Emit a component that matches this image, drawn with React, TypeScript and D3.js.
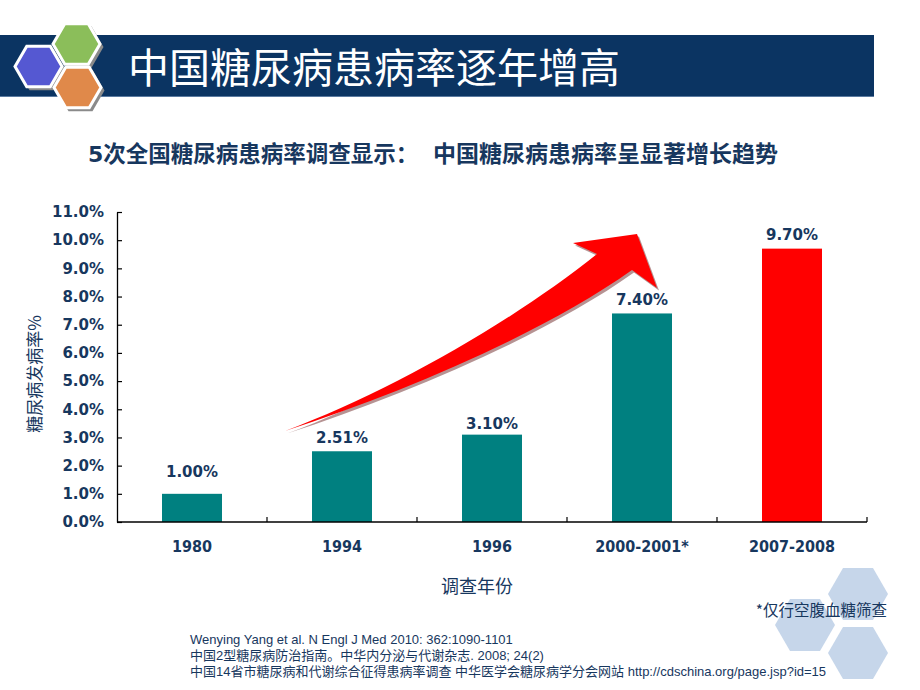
import React, { useEffect, useRef } from "react";
import * as d3 from "d3";

const categories = ["1980", "1994", "1996", "2000-2001*", "2007-2008"];
const values = [1.0, 2.51, 3.1, 7.4, 9.7];
const valueLabels = ["1.00%", "2.51%", "3.10%", "7.40%", "9.70%"];
const yTicks = [0, 1, 2, 3, 4, 5, 6, 7, 8, 9, 10, 11];
const references = [
  "Wenying Yang et al. N Engl J Med 2010: 362:1090-1101",
  "中国2型糖尿病防治指南。中华内分泌与代谢杂志. 2008; 24(2)",
  "中国14省市糖尿病和代谢综合征得患病率调查 中华医学会糖尿病学分会网站 http://cdschina.org/page.jsp?id=15",
];

const W = 920;
const H = 690;
const NAVY = "#17375E";
const labelLift = [17, 8, 6, 8, 9];

function hexPoints(cx: number, cy: number, r: number): string {
  const pts: string[] = [];
  for (let i = 0; i < 6; i++) {
    const a = (Math.PI / 3) * i;
    pts.push(`${cx + r * Math.cos(a)},${cy + r * Math.sin(a)}`);
  }
  return pts.join(" ");
}

export default function App() {
  const yAxisRef = useRef<SVGGElement>(null);

  const x = d3
    .scaleBand<string>()
    .domain(categories)
    .range([117, 867])
    .paddingInner(0.6)
    .paddingOuter(0.3);
  const y = d3.scaleLinear().domain([0, 11]).range([522, 212]);
  const step = x.step();
  const [x0, x1] = x.range();

  useEffect(() => {
    if (!yAxisRef.current) return;
    const g = d3.select(yAxisRef.current);
    g.call(
      d3
        .axisLeft(y)
        .tickValues(yTicks)
        .tickSizeInner(-5)
        .tickSizeOuter(0)
        .tickPadding(13)
        .tickFormat((d) => `${(d as number).toFixed(1)}%`)
    );
    g.select(".domain").attr("stroke", "#000").attr("stroke-width", 1.3);
    g.selectAll(".tick line").attr("stroke", "#000").attr("stroke-width", 1.2);
    g.selectAll(".tick text")
      .attr("fill", NAVY)
      .attr("font-family", "'DejaVu Sans', Verdana, sans-serif")
      .attr("font-weight", "bold")
      .attr("font-size", 15);
  }, []);

  const arrowPath =
    "M285,431 C390,392 512,322 597,254 L573,243 L637,234 L657,288 L632,270 C545,332 405,392 285,431 Z";

  return (
    <svg
      width={W}
      height={H}
      viewBox={`0 0 ${W} ${H}`}
      style={{ position: "absolute", left: 0, top: 0, display: "block", background: "#fff" }}
    >
      {/* header band */}
      <rect x={0} y={35} width={874} height={62} fill="#0B3462" />
      <line x1={0} x2={874} y1={96.5} y2={96.5} stroke="#5a7aa0" strokeWidth={1} />
      {/* header hexagons */}
      <g>
        {[
          { cx: 38.5, cy: 66.5, c: "#5558D2" },
          { cx: 76.5, cy: 44, c: "#8BBE5A" },
          { cx: 77.5, cy: 87.5, c: "#E0894A" },
        ].map((h, i) => (
          <g key={i}>
            <polygon points={hexPoints(h.cx + 3, h.cy + 3, 24)} fill="#8a8a8a" />
            <polygon points={hexPoints(h.cx, h.cy, 23.5)} fill={h.c} stroke="#fff" strokeWidth={3} />
          </g>
        ))}
      </g>
      <text
        x={128}
        y={83}
        fill="#fff"
        fontSize={41}
        fontFamily="'Noto Sans CJK SC', sans-serif"
      >
        中国糖尿病患病率逐年增高
      </text>

      {/* subtitle */}
      <g fill={NAVY} fontWeight="bold" fontFamily="'Noto Sans CJK SC', sans-serif" fontSize={22.5}>
        <text x={88} y={162}>
          <tspan fontFamily="'DejaVu Sans', sans-serif" fontSize={22}>5</tspan>次全国糖尿病患病率调查显示：
        </text>
        <text x={433} y={162} fontSize={23}>中国糖尿病患病率呈显著增长趋势</text>
      </g>

      {/* bottom right hexagons */}
      <g fill="#C6D6EA">
        <polygon points={hexPoints(858, 594, 30)} />
        <polygon points={hexPoints(858, 653, 30)} />
        <polygon points={hexPoints(805, 625, 30)} />
      </g>

      {/* bars */}
      {categories.map((c, i) => (
        <rect
          key={c}
          x={x(c)}
          y={y(values[i])}
          width={x.bandwidth()}
          height={y(0) - y(values[i])}
          fill={i === categories.length - 1 ? "#FF0000" : "#008080"}
        />
      ))}

      {/* value labels */}
      {categories.map((c, i) => (
        <text
          key={c}
          x={(x(c) as number) + x.bandwidth() / 2}
          y={y(values[i]) - labelLift[i]}
          textAnchor="middle"
          fill={NAVY}
          fontWeight="bold"
          fontSize={15}
          fontFamily="'DejaVu Sans', Verdana, sans-serif"
        >
          {valueLabels[i]}
        </text>
      ))}

      {/* x axis */}
      <line x1={x0} x2={x1} y1={y(0)} y2={y(0)} stroke="#000" strokeWidth={1.3} />
      {categories.map((c, i) => (
        <line
          key={c}
          x1={x0 + step * (i + 1)}
          x2={x0 + step * (i + 1)}
          y1={y(0)}
          y2={y(0) - 5}
          stroke="#000"
          strokeWidth={1.2}
        />
      ))}
      {categories.map((c) => (
        <text
          key={c}
          x={(x(c) as number) + x.bandwidth() / 2}
          y={552}
          textAnchor="middle"
          fill={NAVY}
          fontWeight="bold"
          fontSize={16}
          fontFamily="'DejaVu Sans Condensed', 'DejaVu Sans', sans-serif"
          style={{ fontStretch: "condensed" }}
        >
          {c}
        </text>
      ))}

      {/* y axis */}
      <g ref={yAxisRef} transform={`translate(${x0},0)`} />

      {/* arrow */}
      <path d={arrowPath} fill="#7a3a3a" opacity={0.55} transform="translate(2,2.5)" />
      <path d={arrowPath} fill="#FF0000" />

      {/* axis titles */}
      <text
        transform="translate(41,374) rotate(-90)"
        textAnchor="middle"
        fill={NAVY}
        fontSize={17}
        fontFamily="'Noto Sans CJK SC', sans-serif"
      >
        糖尿病发病率%
      </text>
      <text
        x={477}
        y={593}
        textAnchor="middle"
        fill={NAVY}
        fontSize={18}
        fontFamily="'Noto Sans CJK SC', sans-serif"
      >
        调查年份
      </text>

      {/* note */}
      <text
        x={887}
        y={616}
        textAnchor="end"
        fill={NAVY}
        fontSize={15.5}
        fontFamily="'Noto Sans CJK SC', sans-serif"
      >
        *仅行空腹血糖筛查
      </text>

      {/* references */}
      {references.map((r, i) => (
        <text
          key={i}
          x={190}
          y={644 + i * 16}
          fill={NAVY}
          fontSize={13}
          fontFamily="'Liberation Sans', 'Noto Sans CJK SC', sans-serif"
        >
          {r}
        </text>
      ))}
    </svg>
  );
}
